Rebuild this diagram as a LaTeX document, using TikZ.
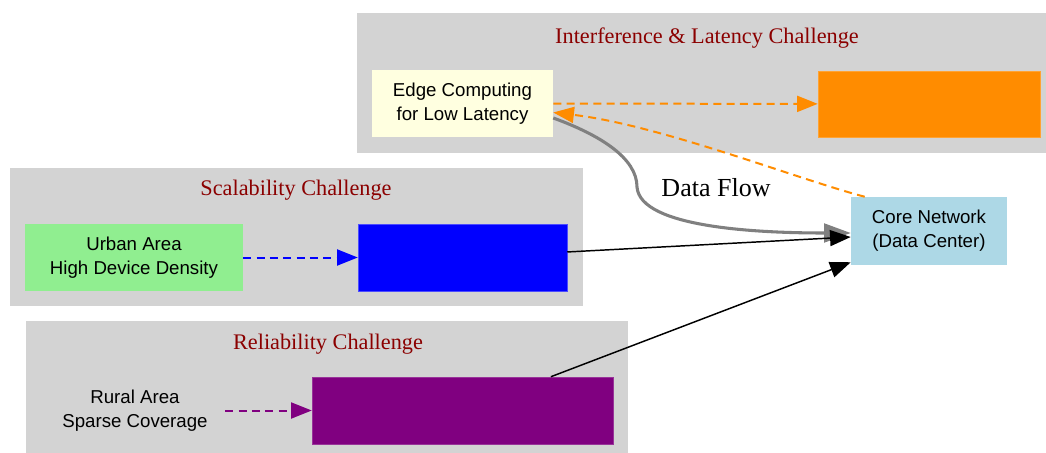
\documentclass[tikz,border=0pt]{standalone}
\usepackage{fontspec}
\setmainfont{Liberation Serif}
\newfontfamily\arialfont{Liberation Sans}
\usetikzlibrary{arrows.meta,calc}

\definecolor{clusterbg}{HTML}{D3D3D3}
\definecolor{titlered}{HTML}{8B0000}
\definecolor{edgeyellow}{HTML}{FFFFE0}
\definecolor{urbangreen}{HTML}{90EE90}
\definecolor{corblue}{HTML}{ADD8E6}
\definecolor{dorange}{HTML}{FF8C00}
\definecolor{pblue}{HTML}{0000FF}
\definecolor{ppurple}{HTML}{800080}
\definecolor{flowgray}{HTML}{808080}

\tikzset{
  cluster/.style={fill=clusterbg, draw=none},
  ctitle/.style={text=titlered, font=\fontsize{16.7}{20}\selectfont, inner sep=0pt},
  box/.style={rectangle, inner sep=0pt, align=center,
    font=\arialfont\fontsize{14}{18}\selectfont},
  tip/.style={-{Triangle[length=15.5pt,width=12pt]}},
  bigtip/.style={-{Triangle[length=20pt,width=14pt]}},
  dashedge/.style={tip, line width=1.5pt, dash pattern=on 6pt off 4pt},
  solidedge/.style={tip, line width=1.1pt, color=black},
}

\begin{document}
\begin{tikzpicture}[x=0.75pt, y=-0.75pt]
\useasboundingbox (0,0) rectangle (1046,453);

% challenge groups
\fill[cluster] (357,13) rectangle (1046,153);
\fill[cluster] (10,168) rectangle (583,306);
\fill[cluster] (26,321) rectangle (628,453);

\node[ctitle] (t1) at (707,38) {Interference \& Latency Challenge};
\node[ctitle] (t2) at (296,190) {Scalability Challenge};
\node[ctitle] (t3) at (328,344) {Reliability Challenge};

% nodes
\node[box, fill=edgeyellow, minimum width=135.75pt, minimum height=50.25pt]
  (edge) at (462.5,103.5) {Edge Computing\\for Low Latency};
\node[box, fill=dorange, draw=dorange!80!white, minimum width=166.5pt, minimum height=49.5pt]
  (orange) at (929,104) {};
\node[box, fill=urbangreen, minimum width=163.5pt, minimum height=50.25pt]
  (urban) at (134,257.5) {Urban Area\\High Device Density};
\node[box, fill=pblue, draw=pblue!70!white, minimum width=156.75pt, minimum height=50.25pt]
  (blue) at (462.5,257.5) {};
\node[box, minimum width=135pt, minimum height=50.25pt]
  (rural) at (135,410.5) {Rural Area\\Sparse Coverage};
\node[box, fill=ppurple, draw=ppurple!80!white, minimum width=225.75pt, minimum height=50.25pt]
  (purple) at (462.5,410.5) {};
\node[box, fill=corblue, minimum width=117pt, minimum height=51pt]
  (core) at (929,231) {Core Network\\(Data Center)};

% connector end points on node borders
\coordinate (edgeOut) at ($(edge.east)+(0,14.5)$);
\coordinate (edgeIn)  at ($(edge.east)+(0,9)$);
\coordinate (coreTop) at ($(core.north west)+(14,0)$);
\coordinate (coreA)   at ($(core.west)+(0,2)$);
\coordinate (coreB)   at ($(core.west)+(0,6)$);
\coordinate (coreC)   at ($(core.south west)+(0,-3)$);

% connectors
\draw[dashedge, color=dorange] (edge) -- (orange);
\draw[dashedge, color=dorange] (coreTop)
  .. controls (800,180) and (660,125) .. (edgeIn);
\draw[bigtip, color=flowgray, line width=2.3pt] (edgeOut)
  .. controls (600,135) and (637,158) .. (637,187)
  .. controls (640,228) and (760,233) .. (coreA);
\node[font=\fontsize{19.5}{23}\selectfont, inner sep=0pt] (flowlabel) at (716,188) {Data Flow};

\draw[dashedge, color=pblue] (urban) -- (blue);
\draw[solidedge] (blue) -- (coreB);
\draw[dashedge, color=ppurple] (rural) -- (purple);
\draw[solidedge] (purple) -- (coreC);
\end{tikzpicture}
\end{document}
